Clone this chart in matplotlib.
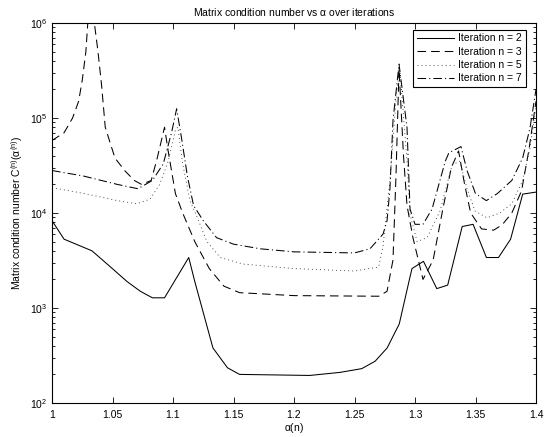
import matplotlib
matplotlib.use("Agg")
import matplotlib.pyplot as plt
import numpy as np

plt.rcParams['font.family'] = ['Liberation Sans', 'DejaVu Sans']
plt.rcParams['mathtext.fontset'] = 'custom'
plt.rcParams['mathtext.rm'] = 'Liberation Sans'
plt.rcParams['mathtext.it'] = 'Liberation Sans'
plt.rcParams['lines.scale_dashes'] = False

# ---- data ----
alpha_n2 = [1.0, 1.01, 1.033, 1.047, 1.062, 1.073, 1.083, 1.093, 1.113, 1.118, 1.133,
            1.145, 1.155, 1.213, 1.238, 1.256, 1.267, 1.277, 1.287, 1.295, 1.2975,
            1.307, 1.318, 1.327, 1.339, 1.348, 1.359, 1.369, 1.379, 1.389, 1.4]
cond_n2 = [8300, 5300, 4000, 2800, 1900, 1500, 1280, 1280, 3400, 1900, 380,
           235, 200, 195, 210, 230, 275, 380, 680, 1900, 2600,
           3100, 1600, 1740, 7200, 7600, 3400, 3400, 5300, 15800, 16600]

alpha_n3 = [1.0, 1.01, 1.017, 1.022, 1.025, 1.028, 1.03, 1.033, 1.035, 1.038, 1.041,
            1.044, 1.052, 1.06, 1.068, 1.074, 1.082, 1.087, 1.093, 1.096, 1.102,
            1.108, 1.118, 1.13, 1.142, 1.155, 1.2, 1.27, 1.2769, 1.2818, 1.2843,
            1.2868, 1.2905, 1.2934, 1.2983, 1.3066, 1.315, 1.323, 1.33, 1.336,
            1.341, 1.346, 1.355, 1.365, 1.372, 1.38, 1.388, 1.394, 1.4]
cond_n3 = [58000, 70000, 100000, 150000, 250000, 500000, 1200000, 2000000, 1000000, 500000, 220000,
           80000, 38000, 28000, 22000, 20000, 22000, 38000, 80000, 45000, 16000,
           10000, 5000, 2600, 1700, 1450, 1350, 1330, 1500, 3200, 25000,
           330000, 40000, 12000, 5500, 2000, 3200, 11000, 30000, 45000,
           20000, 10000, 6800, 6600, 7500, 10000, 17000, 45000, 150000]

alpha_n5 = [1.0, 1.027, 1.054, 1.07, 1.081, 1.089, 1.096, 1.102, 1.104, 1.108, 1.114,
            1.12, 1.128, 1.139, 1.158, 1.2, 1.25, 1.27, 1.2736, 1.2793, 1.2851,
            1.2876, 1.2934, 1.2959, 1.3017, 1.31, 1.3207, 1.3306, 1.337,
            1.343, 1.3496, 1.3595, 1.37, 1.38, 1.389, 1.395, 1.4]
cond_n5 = [18500, 16000, 13500, 12500, 14000, 20000, 35000, 75000, 80000, 33000, 13500,
           9000, 5000, 3400, 2900, 2600, 2450, 2700, 4500, 22000, 210000,
           310000, 35000, 9700, 5000, 5500, 10500, 32000, 35000,
           18000, 10500, 8900, 10000, 12500, 22000, 48000, 130000]

alpha_n7 = [1.0, 1.026, 1.054, 1.071, 1.083, 1.092, 1.099, 1.103, 1.107, 1.112, 1.117,
            1.125, 1.136, 1.15, 1.172, 1.2, 1.25, 1.2628, 1.2736, 1.2769, 1.2793,
            1.2818, 1.2868, 1.2934, 1.2959, 1.300, 1.3066, 1.3141, 1.325, 1.328, 1.338,
            1.343, 1.35, 1.359, 1.368, 1.38, 1.389, 1.395, 1.4]
cond_n7 = [28000, 24500, 20000, 18000, 22000, 33000, 72000, 125000, 62000, 24000, 12000,
           8300, 5500, 4700, 4200, 3900, 3800, 4200, 6000, 8300, 18000,
           94000, 370000, 79000, 11000, 7600, 7600, 11000, 35000, 43000, 50000,
           28000, 16000, 13500, 16000, 22000, 38000, 78000, 200000]

labels = ["Iteration n = 2", "Iteration n = 3", "Iteration n = 5", "Iteration n = 7"]
xticks = [1, 1.05, 1.1, 1.15, 1.2, 1.25, 1.3, 1.35, 1.4]
xticklabels = ["1", "1.05", "1.1", "1.15", "1.2", "1.25", "1.3", "1.35", "1.4"]

# ---- figure ----
fig = plt.figure(figsize=(5.46, 4.37), dpi=100)
ax = fig.add_axes([52/546, 1 - 403/437, 484/546, 380/437])

lw = 0.75
ax.plot(alpha_n2, cond_n2, color='black', lw=lw, linestyle='-', label=labels[0])
ax.plot(alpha_n3, cond_n3, color='black', lw=lw, linestyle=(0, (6.2, 3.6)), label=labels[1])
ax.plot(alpha_n5, cond_n5, color='#333333', lw=0.6, linestyle=(0, (0.7, 2.2)), label=labels[2])
ax.plot(alpha_n7, cond_n7, color='black', lw=lw, linestyle=(0, (6.2, 2.2, 0.8, 2.2)), label=labels[3])

ax.set_yscale('log')
ax.set_xlim(1, 1.4)
ax.set_ylim(1e2, 1e6)
ax.set_xticks(xticks)
ax.set_xticklabels(xticklabels)

ax.tick_params(which='both', direction='in', top=True, right=True, labelsize=7.5, width=0.6)
ax.tick_params(which='major', length=4)
ax.tick_params(which='minor', length=2)
ax.tick_params(axis='x', pad=5)
for s in ax.spines.values():
    s.set_linewidth(0.8)

ax.set_title(r"Matrix condition number vs $\alpha$ over iterations", fontsize=7.5, pad=5)
ax.set_xlabel(r"$\alpha$(n)", fontsize=7.5, labelpad=1)
ax.set_ylabel(r"Matrix condition number C$^{(n)}$($\alpha^{(n)}$)", fontsize=7.5, labelpad=3)

leg = ax.legend(loc='upper right', bbox_to_anchor=(0.979, 0.982), fontsize=7.5,
                frameon=True, fancybox=False, edgecolor='black', framealpha=1,
                handlelength=3.6, borderpad=0.35, labelspacing=0.32, handletextpad=0.4,
                borderaxespad=0)
leg.get_frame().set_linewidth(0.8)

fig.savefig("out.png", dpi=100)
